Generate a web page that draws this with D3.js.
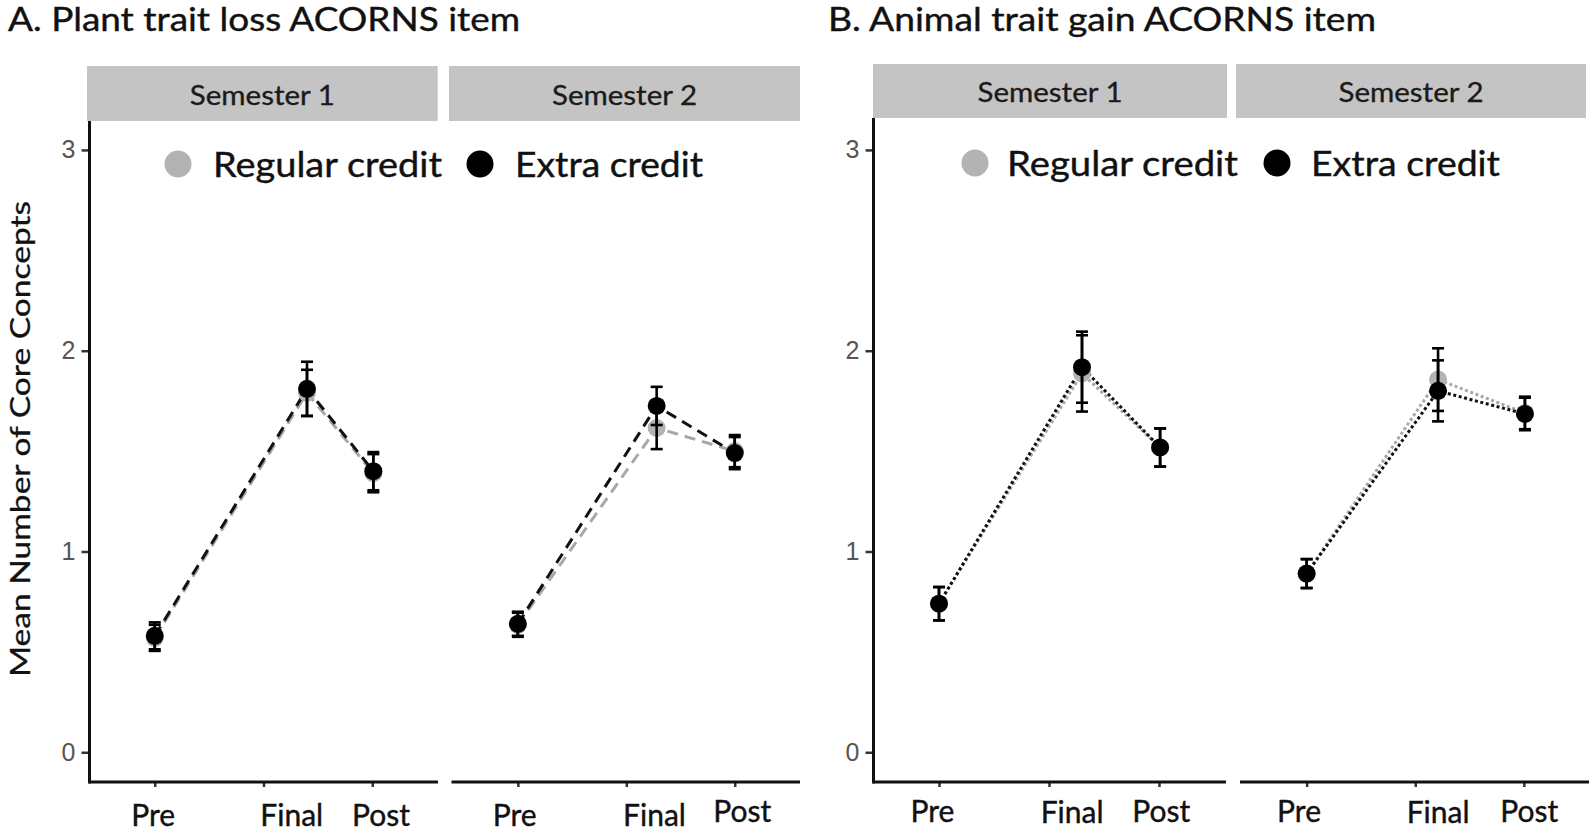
<!DOCTYPE html>
<html>
<head>
<meta charset="utf-8">
<script src="https://cdn.jsdelivr.net/npm/d3@7"></script>
<style>
  html, body { margin: 0; padding: 0; background: #ffffff; }
  svg { display: block; }
</style>
</head>
<body>
<svg id="chart" width="1594" height="831"></svg>
<script>
// ---------------- DATA ----------------
const timepoints = ["Pre", "Final", "Post"];
const semesters = ["Semester 1", "Semester 2"];
const groups = ["Regular credit", "Extra credit"];
const yTicks = [0, 1, 2, 3];

// measurement occasion (relative study time) of each timepoint, per facet
const plantS1Time = [1, 2.40, 3.01];
const plantS2Time = [1, 2.28, 3.00];
const animalS1Time = [1, 2.30, 3.01];
const animalS2Time = [1, 2.21, 3.01];

// A. Plant trait loss – means and error half-widths
const plantS1Regular   = [0.57, 1.79, 1.39];
const plantS1RegularErr = [0.065, 0.115, 0.095];
const plantS1Extra     = [0.58, 1.81, 1.40];
const plantS1ExtraErr  = [0.067, 0.135, 0.095];
const plantS2Regular   = [0.635, 1.615, 1.50];
const plantS2RegularErr = [0.06, 0.105, 0.08];
const plantS2Extra     = [0.64, 1.725, 1.49];
const plantS2ExtraErr  = [0.06, 0.095, 0.08];

// B. Animal trait gain – means and error half-widths
const animalS1Regular   = [0.74, 1.887, 1.518];
const animalS1RegularErr = [0.083, 0.19, 0.095];
const animalS1Extra     = [0.74, 1.918, 1.518];
const animalS1ExtraErr  = [0.083, 0.177, 0.095];
const animalS2Regular   = [0.89, 1.856, 1.69];
const animalS2RegularErr = [0.072, 0.156, 0.081];
const animalS2Extra     = [0.89, 1.80, 1.685];
const animalS2ExtraErr  = [0.072, 0.152, 0.081];

// ---------------- LAYOUT / STYLE ----------------
const groupColor = { "Regular credit": "#b3b3b3", "Extra credit": "#000000" };
const lineColor = { "Regular credit": "#a8a8a8", "Extra credit": "#111111" };
const FONT = "Lato, 'Open Sans', sans-serif";
const NUMFONT = "'Liberation Sans', Arial, sans-serif";

const panels = [
  {
    title: "A. Plant trait loss ACORNS item", titleX: 8, titleY: 31, titleLen: 512,
    dash: "11,7",
    yAxisX: 89.5, plotBottom: 782, stripTop: 66, stripBottom: 121, stripTextY: 104.5,
    legend: { y: 164, items: [{ dot: 178, text: 213, len: 229 }, { dot: 480, text: 515, len: 188 }], textY: 177 },
    facets: [
      { range: [89.5, 437.5], strip: [87, 437.7], axis: [89, 438],
        time: plantS1Time, series: [[plantS1Regular, plantS1RegularErr], [plantS1Extra, plantS1ExtraErr]],
        labelAt: [0.985, 2.26, 3.08], labelY: [826, 826, 826] },
      { range: [452.8, 799.8], strip: [449, 800], axis: [451.5, 800],
        time: plantS2Time, series: [[plantS2Regular, plantS2RegularErr], [plantS2Extra, plantS2ExtraErr]],
        labelAt: [0.97, 2.26, 3.07], labelY: [826, 826, 822] }
    ]
  },
  {
    title: "B. Animal trait gain ACORNS item", titleX: 828, titleY: 31, titleLen: 548,
    dash: "3,2.6",
    yAxisX: 873.5, plotBottom: 782, stripTop: 64, stripBottom: 118, stripTextY: 101.5,
    legend: { y: 163, items: [{ dot: 975, text: 1007, len: 231 }, { dot: 1277, text: 1311, len: 189 }], textY: 176 },
    facets: [
      { range: [873, 1225], strip: [873, 1227], axis: [873, 1226],
        time: animalS1Time, series: [[animalS1Regular, animalS1RegularErr], [animalS1Extra, animalS1ExtraErr]],
        labelAt: [0.94, 2.21, 3.02], labelY: [822, 823, 822] },
      { range: [1241.5, 1589], strip: [1236, 1586], axis: [1240, 1589],
        time: animalS2Time, series: [[animalS2Regular, animalS2RegularErr], [animalS2Extra, animalS2ExtraErr]],
        labelAt: [0.93, 2.21, 3.05], labelY: [822, 823, 822] }
    ]
  }
];

// ---------------- DRAW ----------------
const svg = d3.select("#chart");
svg.append("rect").attr("width", 1594).attr("height", 831).attr("fill", "#fff");

const y = d3.scaleLinear().domain([-0.15, 3.15]).range([782.4, 119.8]);

function heavy(sel, w) {
  return sel.attr("stroke", "#111").attr("stroke-width", w).attr("paint-order", "stroke");
}

// y axis title (shared, left)
heavy(svg.append("text")
  .attr("transform", "translate(30,439) rotate(-90)")
  .attr("text-anchor", "middle")
  .attr("font-family", FONT).attr("font-size", 27)
  .attr("textLength", 476).attr("lengthAdjust", "spacingAndGlyphs")
  .attr("fill", "#111")
  .text("Mean Number of Core Concepts"), 0.3);

panels.forEach(p => {
  const g = svg.append("g");

  // title
  heavy(g.append("text").attr("x", p.titleX).attr("y", p.titleY)
    .attr("font-family", FONT).attr("font-size", 32)
    .attr("textLength", p.titleLen).attr("lengthAdjust", "spacingAndGlyphs")
    .attr("fill", "#111").text(p.title), 0.4);

  // strips
  p.facets.forEach((f, i) => {
    g.append("rect").attr("x", f.strip[0]).attr("y", p.stripTop)
      .attr("width", f.strip[1] - f.strip[0]).attr("height", p.stripBottom - p.stripTop)
      .attr("fill", "#c4c4c4");
    heavy(g.append("text").attr("x", (f.strip[0] + f.strip[1]) / 2).attr("y", p.stripTextY)
      .attr("text-anchor", "middle").attr("font-family", FONT).attr("font-size", 26)
      .attr("textLength", 145).attr("lengthAdjust", "spacingAndGlyphs")
      .attr("fill", "#1a1a1a").text(semesters[i]), 0.3);
  });

  // y axis (left facet only)
  const yAxis = d3.axisLeft(y).tickValues(yTicks).tickSize(8).tickSizeOuter(0).tickPadding(6)
    .tickFormat(d3.format("d"));
  const ya = g.append("g").attr("transform", `translate(${p.yAxisX},0)`).call(yAxis);
  ya.select(".domain").remove();
  ya.selectAll(".tick line").attr("stroke", "#333").attr("stroke-width", 2.5);
  ya.selectAll(".tick text").attr("font-family", NUMFONT).attr("font-size", 25).attr("fill", "#555");
  g.append("line").attr("x1", p.yAxisX).attr("x2", p.yAxisX)
    .attr("y1", p.stripBottom).attr("y2", p.plotBottom + 1.5)
    .attr("stroke", "#111").attr("stroke-width", 3);

  p.facets.forEach(f => {
    const x = d3.scaleLinear().domain([0.4, 3.6]).range(f.range);

    // x axis
    const xAxis = d3.axisBottom(x).tickValues([1, 2, 3]).tickSize(5).tickSizeOuter(0).tickFormat("");
    const xa = g.append("g").attr("transform", `translate(0,${p.plotBottom})`).call(xAxis);
    xa.select(".domain").remove();
    xa.selectAll(".tick line").attr("stroke", "#333").attr("stroke-width", 2.5);
    g.append("line").attr("x1", f.axis[0]).attr("x2", f.axis[1])
      .attr("y1", p.plotBottom).attr("y2", p.plotBottom)
      .attr("stroke", "#111").attr("stroke-width", 3.2);

    // x labels
    timepoints.forEach((t, k) => {
      heavy(g.append("text").attr("x", x(f.labelAt[k])).attr("y", f.labelY[k])
        .attr("text-anchor", "middle").attr("font-family", FONT).attr("font-size", 30)
        .attr("fill", "#111").text(t), 0.4);
    });

    const seriesData = f.series.map((s, gi) => ({
      group: groups[gi],
      pts: timepoints.map((t, k) => ({ t: f.time[k], v: s[0][k], e: s[1][k] }))
    }));

    const line = d3.line().x(d => x(d.t)).y(d => y(d.v));

    // lines
    seriesData.forEach(s => {
      g.append("path").datum(s.pts).attr("d", line)
        .attr("fill", "none").attr("stroke", lineColor[s.group])
        .attr("stroke-width", 3).attr("stroke-dasharray", p.dash);
    });
    // points
    seriesData.forEach(s => {
      g.selectAll(null).data(s.pts).join("circle")
        .attr("cx", d => x(d.t)).attr("cy", d => y(d.v)).attr("r", 9)
        .attr("fill", groupColor[s.group]);
    });
    // error bars
    seriesData.forEach(s => {
      const eb = g.selectAll(null).data(s.pts).join("g").attr("stroke", "#000").attr("stroke-width", 2.6);
      eb.append("line").attr("x1", d => x(d.t)).attr("x2", d => x(d.t))
        .attr("y1", d => y(d.v - d.e)).attr("y2", d => y(d.v + d.e));
      eb.append("line").attr("x1", d => x(d.t) - 6).attr("x2", d => x(d.t) + 6)
        .attr("y1", d => y(d.v + d.e)).attr("y2", d => y(d.v + d.e));
      eb.append("line").attr("x1", d => x(d.t) - 6).attr("x2", d => x(d.t) + 6)
        .attr("y1", d => y(d.v - d.e)).attr("y2", d => y(d.v - d.e));
    });
  });

  // legend
  groups.forEach((grp, i) => {
    const it = p.legend.items[i];
    g.append("circle").attr("cx", it.dot).attr("cy", p.legend.y).attr("r", 13.5)
      .attr("fill", groupColor[grp]);
    heavy(g.append("text").attr("x", it.text).attr("y", p.legend.textY)
      .attr("font-family", FONT).attr("font-size", 34)
      .attr("textLength", it.len).attr("lengthAdjust", "spacingAndGlyphs")
      .attr("fill", "#111").text(grp), 0.4);
  });
});
</script>
</body>
</html>
